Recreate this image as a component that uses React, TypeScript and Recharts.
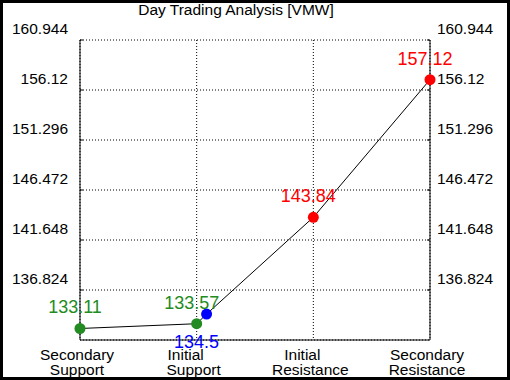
import { ComposedChart, Line, XAxis, YAxis, CartesianGrid, LabelList } from 'recharts';

const categories = ['Secondary Support', 'Initial Support', 'Initial Resistance', 'Secondary Resistance'];
const levelPositions = [0, 1, 1.085, 2, 3];
const levelValues = [133.11, 133.57, 134.5, 143.84, 157.12];
const levelKinds = ['support', 'support', 'current', 'resistance', 'resistance'];
const yTicks = [136.824, 141.648, 146.472, 151.296, 156.12, 160.944];

const kindColor: Record<string, string> = {
  support: '#228b22',
  current: '#0000ff',
  resistance: '#ff0000',
};

const data = levelValues.map((v, i) => ({ x: levelPositions[i], price: v, kind: levelKinds[i] }));

const FONT = '"Liberation Sans", Arial, sans-serif';

const Dot = (props: any) => {
  const { cx, cy, payload } = props;
  return <circle cx={cx} cy={cy} r={5.5} fill={kindColor[payload.kind]} stroke="none" />;
};

const PointLabel = (props: any) => {
  const { x, y, value, index } = props;
  const kind = levelKinds[index];
  const below = kind === 'current';
  return (
    <text
      x={x + (below ? -10 : -5)}
      y={y + (below ? 28 : -21)}
      textAnchor="middle"
      dominantBaseline="central"
      fill={kindColor[kind]}
      fontSize={18}
      fontFamily={FONT}
    >
      {value}
    </text>
  );
};

const CategoryTick = (props: any) => {
  const { x, y, payload } = props;
  const [a, b] = categories[payload.value].split(' ');
  const shiftA = a === 'Initial' ? -8 : 0;
  return (
    <text x={x - 3} y={y} textAnchor="middle" fill="#000" fontSize={15.5} fontFamily={FONT}>
      <tspan x={x - 3 + shiftA} dy={0}>{a}</tspan>
      <tspan x={x - 3} dy={14.5}>{b}</tspan>
    </text>
  );
};

const LeftTick = (props: any) => {
  const { x, y, payload } = props;
  return (
    <g>
      <line x1={80} x2={83} y1={y} y2={y} stroke="#000" />
      <text x={x} y={y - 12} textAnchor="end" dominantBaseline="central" fill="#000" fontSize={15.5} fontFamily={FONT}>
        {payload.value}
      </text>
    </g>
  );
};

const RightTick = (props: any) => {
  const { x, y, payload } = props;
  return (
    <g>
      <line x1={427} x2={430} y1={y} y2={y} stroke="#000" />
      <text x={x} y={y - 12} textAnchor="start" dominantBaseline="central" fill="#000" fontSize={15.5} fontFamily={FONT}>
        {payload.value}
      </text>
    </g>
  );
};

export default function App() {
  return (
    <div style={{ position: 'absolute', left: 0, top: 0, width: 510, height: 380, background: '#fff' }}>
      <ComposedChart
        width={510}
        height={380}
        data={data}
        margin={{ top: 40, right: 0, bottom: 0, left: 0 }}
      >
        <CartesianGrid yAxisId="left" stroke="#000" strokeDasharray="1 2" />
        <XAxis
          type="number"
          dataKey="x"
          domain={[0, 3]}
          ticks={[0, 1, 2, 3]}
          height={40}
          axisLine={{ stroke: '#000' }}
          tickLine={false}
          tickSize={0}
          tickMargin={20}
          tick={<CategoryTick />}
          interval={0}
        />
        <YAxis
          yAxisId="left"
          orientation="left"
          domain={[132, 160.944]}
          ticks={yTicks}
          width={80}
          axisLine={{ stroke: '#000' }}
          tickLine={false}
          tickSize={0}
          tickMargin={12}
          tick={<LeftTick />}
          interval={0}
          allowDataOverflow
        />
        <YAxis
          yAxisId="right"
          orientation="right"
          domain={[132, 160.944]}
          ticks={yTicks}
          width={80}
          axisLine={{ stroke: '#000' }}
          tickLine={false}
          tickSize={0}
          tickMargin={7}
          tick={<RightTick />}
          interval={0}
          allowDataOverflow
        />
        <Line
          yAxisId="left"
          type="linear"
          dataKey="price"
          stroke="#000"
          strokeWidth={1}
          dot={<Dot />}
          activeDot={false}
          isAnimationActive={false}
        >
          <LabelList dataKey="price" content={<PointLabel />} />
        </Line>
      </ComposedChart>
      <div
        style={{
          position: 'absolute',
          left: 0,
          top: 2,
          width: 472,
          textAlign: 'center',
          fontFamily: FONT,
          fontSize: 15.5,
          lineHeight: '16px',
          color: '#000',
        }}
      >
        Day Trading Analysis [VMW]
      </div>
      <div
        style={{
          position: 'absolute',
          left: 0,
          top: 0,
          width: 510,
          height: 380,
          border: '3px solid #000',
          boxSizing: 'border-box',
          pointerEvents: 'none',
        }}
      />
    </div>
  );
}
